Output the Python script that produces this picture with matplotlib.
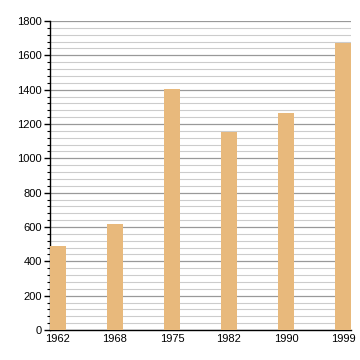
import matplotlib
matplotlib.use("Agg")
import matplotlib.pyplot as plt
from matplotlib.ticker import MultipleLocator

# census years and population
years = ["1962", "1968", "1975", "1982", "1990", "1999"]
population = [489, 617, 1402, 1155, 1264, 1674]

plt.rcParams['font.family'] = ['Liberation Sans', 'DejaVu Sans']

fig = plt.figure(figsize=(3.6, 3.6), dpi=100)
ax = fig.add_axes([50/360, 30/360, 301/360, 309/360])

w = 0.28
x = list(range(len(years)))
ax.bar(x, population, width=w, color="#e8b97c", zorder=3)

ax.set_xlim(-w/2, len(years) - 1 + w/2)
ax.set_ylim(0, 1800)
ax.set_xticks(x)
ax.set_xticklabels(years)
ax.yaxis.set_major_locator(MultipleLocator(200))
ax.yaxis.set_minor_locator(MultipleLocator(40))

ax.grid(axis="y", which="major", color="#999999", linewidth=0.9, zorder=0)
ax.grid(axis="y", which="minor", color="#cccccc", linewidth=0.8, zorder=0)

for s in ["top", "right"]:
    ax.spines[s].set_visible(False)
ax.spines["left"].set_linewidth(1.0)
ax.spines["bottom"].set_linewidth(1.0)

ax.tick_params(axis="y", which="major", length=4, width=1, labelsize=8, pad=2)
ax.tick_params(axis="y", which="minor", length=2.5, width=0.8)
ax.tick_params(axis="x", length=0, labelsize=8, pad=3)

fig.savefig("out.png", dpi=100)
